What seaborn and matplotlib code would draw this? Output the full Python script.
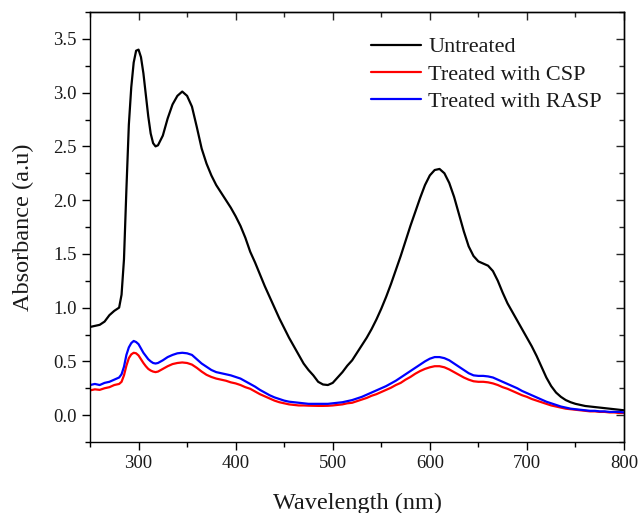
import numpy as np
import pandas as pd
import matplotlib
matplotlib.use("Agg")
import matplotlib.pyplot as plt
from matplotlib.ticker import MultipleLocator, FormatStrFormatter
import seaborn as sns

# Wavelength grid (nm): finer steps around the sharp 300 nm peak
wavelength = ([250, 255, 260, 265, 270, 275, 280]
              + [282.5, 285, 287.5, 290, 292.5, 295, 297.5, 300,
                 302.5, 305, 307.5, 310, 312.5, 315, 317.5, 320]
              + list(range(325, 801, 5)))

untreated = [0.82, 0.83, 0.84, 0.87, 0.93, 0.97, 1.00,
             1.12, 1.45, 2.10, 2.70, 3.05, 3.28, 3.39, 3.40,
             3.33, 3.18, 2.98, 2.78, 2.62, 2.53, 2.50, 2.51,
             # 325-400
             2.60, 2.76, 2.89, 2.97, 3.01, 2.97, 2.87, 2.68, 2.48, 2.34,
             2.23, 2.14, 2.07, 2.00, 1.93, 1.85,
             # 405-500
             1.76, 1.65, 1.52, 1.42, 1.31, 1.20, 1.10, 1.00, 0.90, 0.81,
             0.72, 0.64, 0.56, 0.48, 0.42, 0.37, 0.31, 0.285, 0.28, 0.30,
             # 505-600
             0.35, 0.40, 0.46, 0.51, 0.58, 0.65, 0.72, 0.80, 0.89, 0.99,
             1.10, 1.22, 1.35, 1.48, 1.62, 1.76, 1.89, 2.02, 2.14, 2.23,
             # 605-700
             2.28, 2.29, 2.25, 2.16, 2.03, 1.87, 1.71, 1.57, 1.48, 1.43,
             1.41, 1.39, 1.34, 1.25, 1.14, 1.04, 0.96, 0.88, 0.80, 0.72,
             # 705-800
             0.64, 0.55, 0.45, 0.35, 0.27, 0.21, 0.17, 0.14, 0.12, 0.105,
             0.095, 0.085, 0.08, 0.075, 0.07, 0.065, 0.06, 0.055, 0.05, 0.045]

treated_csp = [0.23, 0.24, 0.235, 0.25, 0.26, 0.28, 0.29,
               0.31, 0.37, 0.46, 0.53, 0.565, 0.58, 0.575, 0.555,
               0.52, 0.485, 0.455, 0.43, 0.415, 0.405, 0.40, 0.405,
               # 325-400
               0.43, 0.455, 0.475, 0.485, 0.49, 0.485, 0.47, 0.44, 0.405, 0.375,
               0.355, 0.34, 0.33, 0.32, 0.305, 0.295,
               # 405-500
               0.28, 0.26, 0.245, 0.22, 0.195, 0.175, 0.155, 0.135, 0.12, 0.11,
               0.10, 0.095, 0.09, 0.09, 0.088, 0.087, 0.086, 0.086, 0.087, 0.09,
               # 505-600
               0.095, 0.10, 0.11, 0.115, 0.13, 0.145, 0.16, 0.18, 0.195, 0.215,
               0.235, 0.255, 0.28, 0.30, 0.33, 0.355, 0.385, 0.41, 0.43, 0.445,
               # 605-700
               0.455, 0.455, 0.445, 0.425, 0.40, 0.375, 0.35, 0.33, 0.315, 0.31,
               0.31, 0.305, 0.295, 0.28, 0.26, 0.245, 0.225, 0.205, 0.185, 0.17,
               # 705-800
               0.15, 0.135, 0.12, 0.105, 0.09, 0.08, 0.07, 0.06, 0.055, 0.05,
               0.045, 0.04, 0.035, 0.035, 0.03, 0.03, 0.025, 0.025, 0.02, 0.02]

treated_rasp = [0.28, 0.29, 0.28, 0.30, 0.31, 0.33, 0.35,
                0.38, 0.45, 0.56, 0.63, 0.67, 0.69, 0.68, 0.66,
                0.62, 0.58, 0.55, 0.52, 0.50, 0.485, 0.48, 0.485,
                # 325-400
                0.51, 0.54, 0.56, 0.575, 0.58, 0.575, 0.56, 0.52, 0.48, 0.45,
                0.42, 0.40, 0.39, 0.38, 0.37, 0.355,
                # 405-500
                0.34, 0.315, 0.29, 0.265, 0.235, 0.21, 0.185, 0.165, 0.15, 0.135,
                0.125, 0.12, 0.115, 0.11, 0.105, 0.105, 0.105, 0.105, 0.105, 0.11,
                # 505-600
                0.115, 0.12, 0.13, 0.14, 0.155, 0.17, 0.19, 0.21, 0.23, 0.25,
                0.27, 0.295, 0.32, 0.35, 0.38, 0.41, 0.44, 0.47, 0.50, 0.525,
                # 605-700
                0.54, 0.54, 0.53, 0.51, 0.48, 0.45, 0.42, 0.39, 0.37, 0.365,
                0.365, 0.36, 0.35, 0.33, 0.31, 0.29, 0.27, 0.25, 0.225, 0.205,
                # 705-800
                0.185, 0.165, 0.145, 0.125, 0.11, 0.095, 0.08, 0.07, 0.06, 0.055,
                0.05, 0.045, 0.04, 0.04, 0.035, 0.035, 0.03, 0.03, 0.03, 0.025]

series_names = ["Untreated", "Treated with CSP", "Treated with RASP"]
series_colors = ["#000000", "#ff0000", "#0000ff"]

assert len(wavelength) == len(untreated) == len(treated_csp) == len(treated_rasp)

df = pd.concat([
    pd.DataFrame({"wavelength": wavelength, "absorbance": vals, "sample": name})
    for name, vals in zip(series_names, [untreated, treated_csp, treated_rasp])
], ignore_index=True)

sns.set_theme(style="ticks")
plt.rcParams["font.family"] = ["Liberation Serif", "DejaVu Serif"]

fig = plt.figure(figsize=(6.41, 5.13), dpi=100)
ax = fig.add_axes([0.1404, 0.1384, 0.8331, 0.8382])

sns.lineplot(data=df, x="wavelength", y="absorbance", hue="sample",
             hue_order=series_names, palette=dict(zip(series_names, series_colors)),
             estimator=None, sort=False, linewidth=1.6, ax=ax)

ax.set_xlim(250, 800)
ax.set_ylim(-0.25, 3.75)
ax.xaxis.set_major_locator(MultipleLocator(100))
ax.xaxis.set_minor_locator(MultipleLocator(50))
ax.yaxis.set_major_locator(MultipleLocator(0.5))
ax.yaxis.set_minor_locator(MultipleLocator(0.25))
ax.yaxis.set_major_formatter(FormatStrFormatter("%.1f"))

for side in ["top", "right", "bottom", "left"]:
    ax.spines[side].set_visible(True)
    ax.spines[side].set_linewidth(1.0)
    ax.spines[side].set_color("black")

text_color = "#1a1a1a"
ax.tick_params(which="both", direction="out", color="black", width=1.0,
               labelsize=13.5, labelcolor=text_color)
ax.tick_params(which="major", length=6)
ax.tick_params(which="minor", length=3.5)

# inward ticks on top and right, no labels
top = ax.secondary_xaxis("top")
top.set_xticks(range(300, 801, 100))
top.xaxis.set_minor_locator(MultipleLocator(50))
top.tick_params(which="both", direction="in", labeltop=False, width=1.0)
top.tick_params(which="major", length=6)
top.tick_params(which="minor", length=3.5)
right = ax.secondary_yaxis("right")
right.yaxis.set_major_locator(MultipleLocator(0.5))
right.yaxis.set_minor_locator(MultipleLocator(0.25))
right.tick_params(which="both", direction="in", labelright=False, width=1.0)
right.tick_params(which="major", length=6)
right.tick_params(which="minor", length=3.5)
for sec in (top, right):
    for sp in sec.spines.values():
        sp.set_linewidth(1.0)

ax.set_xlabel("Wavelength (nm)", fontsize=17.5, color=text_color, labelpad=15)
ax.set_ylabel("Absorbance (a.u)", fontsize=17.5, color=text_color, labelpad=14)

handles, labels = ax.get_legend_handles_labels()
ax.legend(handles, labels, loc="upper right", bbox_to_anchor=(0.975, 0.963),
          borderaxespad=0, frameon=False, fontsize=16, handlelength=2.25,
          handletextpad=0.3, labelspacing=0.31, labelcolor=text_color)

fig.savefig("out.png", dpi=100)
